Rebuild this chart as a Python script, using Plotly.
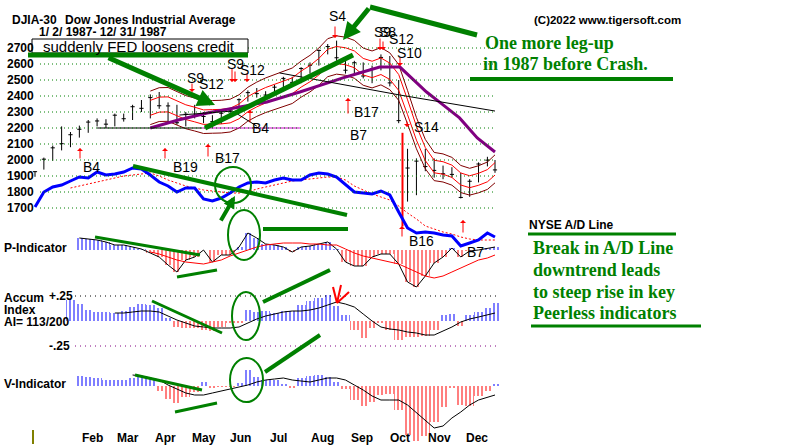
import plotly.graph_objects as go
import pandas as pd

# weekly points (Fridays of 1987, last = Dec 31)
weeks = pd.date_range('1987-01-02', '1987-12-25', freq='7D').strftime('%Y-%m-%d').tolist() + ['1987-12-31']

# DJIA weekly high / low / close
high = [1930, 2015, 2090, 2210, 2175, 2215, 2250, 2260, 2255, 2290, 2290, 2345, 2375, 2410, 2425, 2360, 2345, 2300,
        2345, 2300, 2280, 2305, 2325, 2385, 2435, 2450, 2430, 2470, 2520, 2520, 2580, 2610, 2690, 2725, 2746, 2640,
        2620, 2610, 2590, 2660, 2650, 2500, 2070, 2010, 2070, 2010, 1965, 1955, 1920, 1880, 1985, 2020, 2000]
low = [1895, 1940, 1995, 2060, 2080, 2140, 2170, 2210, 2200, 2210, 2240, 2250, 2300, 2260, 2320, 2230, 2220, 2210,
       2260, 2230, 2200, 2225, 2270, 2300, 2365, 2390, 2390, 2400, 2440, 2460, 2480, 2540, 2590, 2660, 2620, 2540,
       2540, 2510, 2480, 2560, 2460, 2230, 1740, 1780, 1930, 1890, 1880, 1890, 1760, 1770, 1860, 1960, 1920]
close = [1927, 2005, 2076, 2102, 2158, 2192, 2237, 2244, 2224, 2280, 2258, 2333, 2323, 2390, 2339, 2338, 2233, 2286,
         2280, 2272, 2240, 2292, 2306, 2377, 2421, 2415, 2406, 2455, 2510, 2485, 2572, 2592, 2685, 2709, 2639, 2561,
         2608, 2525, 2570, 2641, 2482, 2246, 1950, 1993, 1959, 1935, 1914, 1910, 1766, 1867, 1975, 1999, 1938]

# crash day bar (drawn red)
crash_day = ['1987-10-19']
crash_hi = [2170]
crash_lo = [1585]

# 50-day MA (purple)
ma50_dates = ['1987-04-03', '1987-04-25', '1987-05-18', '1987-06-07', '1987-07-04', '1987-07-30', '1987-08-20',
              '1987-09-02', '1987-09-15', '1987-10-01', '1987-10-17', '1987-11-07', '1987-11-17', '1987-12-03',
              '1987-12-17', '1987-12-31']
ma50 = [2200, 2250, 2294, 2325, 2363, 2425, 2481, 2513, 2544, 2581, 2581, 2425, 2363, 2263, 2138, 2050]

# drawn black trend lines
trend_dates = ['1987-07-14', '1987-10-17', '1987-12-31']
trend = [2544, 2406, 2306]
trend2_dates = ['1987-04-26', '1987-06-07', '1987-06-26']
trend2 = [2281, 2306, 2212]
support_dates = ['1987-02-20', '1987-05-14']
support2_dates = ['1987-05-14', '1987-07-30']
support = [2200, 2200]

# NYSE A/D line and its MA
ad = [300, 1800, 2300, 2500, 2900, 3300, 3200, 3800, 3500, 3600, 3800, 4200, 4100, 3500, 2800, 2400, 1800, 2200,
      2200, 1100, 900, 1200, 1700, 2300, 2700, 2800, 2700, 3000, 3200, 3000, 3000, 3500, 3700, 3600, 3300, 2500,
      1800, 1700, 1600, 1900, 1500, -200, -1800, -2300, -2200, -2300, -2500, -2600, -3600, -3300, -3000, -2300, -2700]
ad_ma = [None] * 4 + [2200, 2400, 2600, 2800, 3000, 3200, 3400, 3500, 3600, 3700, 3400, 3000, 2700, 2400, 2200,
                      2000, 1900, 1800, 1700, 1700, 1800, 2100, 2300, 2500, 2700, 2900, 3000, 3100, 3200, 3300,
                      3300, 3000, 2400, 2000, 1600, 1300, 1000, 400, -300, -900, -1600, -1900, -2200, -2400,
                      -2700, -2900, -3000, -3000, -3000]

# P-Indicator and its MA
p_ind = [None] * 5 + [120, 110, 100, 80, 50, 50, 30, 10, -30, -70, -150, -220, -100, -70, 0, -120, -50, -50, 30,
                      170, 120, 60, 50, 30, -20, 30, 40, 60, 80, 10, -120, -160, -160, -70, -40, -40, -140, -320,
                      -370, -260, -130, -70, 20, -70, -10, 0, 20, 30]
p_ma = [None] * 13 + [-20, -40, -70, -100, -120, -130, -140, -120, -100, -60, -30, 0, 30, 50, 60, 70, 70, 70, 60,
                      60, 50, 50, 10, -30, -60, -80, -100, -120, -140, -180, -220, -260, -280, -260, -220, -180,
                      -140, -100, -80, -50]

# Accumulation Index and its MA
ai = [None] * 4 + [0.21, 0.17, 0.11, 0.09, 0.09, 0.08, 0.10, 0.14, 0.17, 0.16, 0.13, 0.03, -0.06, -0.07, -0.07,
                   -0.09, -0.10, -0.06, -0.02, -0.02, 0.11, 0.09, 0.10, 0.08, 0.10, 0.10, 0.16, 0.20, 0.23, 0.26,
                   0.15, 0.06, -0.09, -0.17, -0.07, -0.02, -0.09, -0.19, -0.16, -0.16, -0.15, -0.09, 0.06, 0.07,
                   -0.05, 0.06, 0.09, 0.13, 0.18]
ai_ma = [None] * 9 + [0.08, 0.08, 0.09, 0.10, 0.10, 0.09, 0.05, 0.01, -0.02, -0.05, -0.06, -0.07, -0.07, -0.07,
                      -0.06, -0.02, 0.02, 0.05, 0.07, 0.09, 0.10, 0.10, 0.11, 0.13, 0.16, 0.19, 0.17, 0.14, 0.07,
                      0.00, -0.06, -0.08, -0.09, -0.11, -0.12, -0.14, -0.14, -0.10, -0.06, -0.01, 0.02, 0.04,
                      0.06, 0.08]

# V-Indicator and its MA
v_ind = [None] * 5 + [100, 90, 80, 60, 60, 60, 80, 90, 70, -50, -130, -170, -110, -60, 40, -20, -10, -10, 30, 160,
                      90, 60, 60, 20, -20, 80, 100, 110, 90, 40, -30, -140, -200, -160, -90, -80, -240, -490, -550,
                      -500, -360, -210, -20, -190, -200, -100, -50, 20]
v_ma = [None] * 11 + [110, 100, 80, 60, 10, -30, -70, -90, -90, -70, -50, -30, -10, 10, 40, 60, 70, 80, 60, 50,
                      40, 60, 80, 80, 60, 10, -40, -100, -140, -140, -140, -190, -270, -340, -420, -400, -320,
                      -260, -190, -140, -110, -90]

price_ticks = [2700, 2600, 2500, 2400, 2300, 2200, 2100, 2000, 1900, 1800, 1700]
month_labels = ['Feb', 'Mar', 'Apr', 'May', 'Jun', 'Jul', 'Aug', 'Sep', 'Oct', 'Nov', 'Dec']
month_pos = ['1987-02-16', '1987-03-16', '1987-04-15', '1987-05-15', '1987-06-13', '1987-07-13', '1987-08-17',
             '1987-09-17', '1987-10-17', '1987-11-17', '1987-12-17']

GREEN = '#008000'
RED = '#ff0000'
DARKRED = '#800000'
BLUE = '#0000ff'
PURPLE = '#800080'
W, H = 800, 447


def px(x):
    return x / W


def py(y):
    return 1 - y / H


# 21-day style band from the weekly closes, shown from April
ma = pd.Series(close).rolling(4).mean()
ma[:13] = None

fig = go.Figure()

# price bars
bx, by = [], []
for d, h, l in zip(weeks, high, low):
    bx += [d, d, None]
    by += [h, l, None]
fig.add_trace(go.Scatter(x=bx, y=by, mode='lines', line=dict(color='black', width=1), yaxis='y'))
fig.add_trace(go.Scatter(x=weeks, y=close, mode='markers', yaxis='y',
                         marker=dict(symbol='line-ew', size=3, line=dict(color='black', width=1))))
cx, cy = [], []
for d, h, l in zip(crash_day, crash_hi, crash_lo):
    cx += [d, d, None]
    cy += [h, l, None]
fig.add_trace(go.Scatter(x=cx, y=cy, mode='lines', line=dict(color=RED, width=2), yaxis='y'))

for k, c in [(1.02, RED), (0.98, RED), (1.045, DARKRED), (0.955, DARKRED)]:
    fig.add_trace(go.Scatter(x=weeks, y=ma * k, mode='lines', line=dict(color=c, width=1), yaxis='y'))

fig.add_trace(go.Scatter(x=ma50_dates, y=ma50, mode='lines', line=dict(color=PURPLE, width=3), yaxis='y'))
fig.add_trace(go.Scatter(x=trend_dates, y=trend, mode='lines', line=dict(color='black', width=1), yaxis='y'))
fig.add_trace(go.Scatter(x=trend2_dates, y=trend2, mode='lines', line=dict(color='black', width=1), yaxis='y'))
fig.add_trace(go.Scatter(x=support_dates, y=support, mode='lines', line=dict(color='black', width=1), yaxis='y'))
fig.add_trace(go.Scatter(x=support2_dates, y=support, mode='lines', line=dict(color='#cc00cc', width=1), yaxis='y'))

# A/D line
fig.add_trace(go.Scatter(x=weeks, y=ad_ma, mode='lines', line=dict(color=RED, width=1, dash='2px,2px'), yaxis='y2'))
fig.add_trace(go.Scatter(x=weeks, y=ad, mode='lines', line=dict(color=BLUE, width=3), yaxis='y2'))

WK = 7 * 86400000


def bars(vals, axis):
    pos = [v if v is not None and v > 0 else None for v in vals]
    neg = [v if v is not None and v < 0 else None for v in vals]
    for arr, col in [(pos, BLUE), (neg, RED)]:
        fig.add_trace(go.Bar(x=weeks, y=arr, width=WK, yaxis=axis,
                             marker=dict(color='white', line_width=0,
                                         pattern=dict(shape='|', fgcolor=col, bgcolor='white',
                                                      size=4, solidity=0.5))))


bars(p_ind, 'y3')
fig.add_trace(go.Scatter(x=weeks, y=p_ind, mode='lines', line=dict(color='black', width=1), yaxis='y3'))
fig.add_trace(go.Scatter(x=weeks, y=p_ma, mode='lines', line=dict(color=RED, width=1), yaxis='y3'))

bars(ai, 'y4')
fig.add_trace(go.Scatter(x=weeks, y=ai_ma, mode='lines', line=dict(color='black', width=1), yaxis='y4'))

bars(v_ind, 'y5')
fig.add_trace(go.Scatter(x=weeks, y=v_ma, mode='lines', line=dict(color='black', width=1), yaxis='y5'))

# x range so that Jan 2 sits at pixel 35 and Dec 31 at pixel 495
ppd = 460 / 363
t0 = pd.Timestamp('1987-01-02') - pd.Timedelta(days=35 / ppd)
t1 = t0 + pd.Timedelta(days=W / ppd)

shapes = []
ann = []

# grid lines
for v in price_ticks:
    shapes.append(dict(type='line', xref='paper', yref='y', x0=px(40), x1=px(496), y0=v, y1=v,
                       line=dict(color=GREEN, width=1, dash='1px,3px')))
    ann.append(dict(text='<b>%d</b>' % v, x=px(5), y=v, xref='paper', yref='y', showarrow=False,
                    xanchor='left', yanchor='middle', font=dict(family='Arial', size=12, color='black')))
shapes.append(dict(type='line', xref='paper', yref='paper', x0=px(75), x1=px(496), y0=py(296), y1=py(296),
                   line=dict(color='black', width=1, dash='1px,4px')))
shapes.append(dict(type='line', xref='paper', yref='paper', x0=px(75), x1=px(496), y0=py(346), y1=py(346),
                   line=dict(color=PURPLE, width=1, dash='1px,4px')))
shapes.append(dict(type='line', xref='paper', yref='paper', x0=px(33), x1=px(33), y0=py(430), y1=py(444),
                   line=dict(color='#808000', width=2)))

# box
shapes.append(dict(type='rect', xref='paper', yref='paper', x0=px(32), x1=px(248), y0=py(53), y1=py(39),
                   line=dict(color='black', width=1), fillcolor='white'))


def gline(x0, y0, x1, y1, w=5):
    shapes.append(dict(type='line', xref='paper', yref='paper', x0=px(x0), y0=py(y0), x1=px(x1), y1=py(y1),
                       line=dict(color=GREEN, width=w)))


def gcirc(x0, y0, x1, y1):
    shapes.append(dict(type='circle', xref='paper', yref='paper', x0=px(x0), y0=py(y1), x1=px(x1), y1=py(y0),
                       line=dict(color=GREEN, width=2)))


def arrow(tx, ty, sx, sy, color, w=1, head=1, size=1):
    ann.append(dict(text='', x=px(tx), y=py(ty), xref='paper', yref='paper', showarrow=True,
                    ax=sx - tx, ay=sy - ty, arrowcolor=color, arrowwidth=w, arrowhead=head, arrowsize=size))


def txt(s, x, y, size=12, color='black', bold=True, family='Arial'):
    ann.append(dict(text=('<b>%s</b>' % s) if bold else s, x=px(x), y=py(y), xref='paper', yref='paper',
                    showarrow=False, xanchor='left', yanchor='middle',
                    font=dict(family=family, size=size, color=color)))


gline(28, 55, 248, 55)
gline(205, 128, 353, 55)
gline(370, 7, 477, 35)
gline(470, 79, 673, 79, 4)
gline(528, 234, 676, 234, 3)
gline(531, 326, 701, 326, 3)
gline(133, 166, 347, 215, 4)
gline(263, 229, 348, 229, 4)
gline(95, 237, 200, 255, 3)
gline(177, 277, 217, 270, 3)
gline(152, 301, 222, 333, 3)
gline(263, 302, 330, 270, 4)
gline(135, 375, 202, 390, 3)
gline(175, 412, 217, 403, 3)
gline(265, 372, 320, 335, 4)
gcirc(215, 167, 251, 203)
gcirc(228, 210, 260, 260)
gcirc(232, 292, 260, 340)
gcirc(230, 358, 263, 402)
arrow(215, 105, 107, 57, GREEN, 5, 2, 0.7)
arrow(343, 40, 370, 7, GREEN, 5, 2, 0.7)
arrow(235, 196, 220, 222, GREEN, 4, 2, 0.6)

# red marks on the Accum Index in August
for x0, y0 in [(333, 287), (341, 285), (349, 292)]:
    shapes.append(dict(type='line', xref='paper', yref='paper', x0=px(x0), y0=py(y0), x1=px(337), y1=py(303),
                       line=dict(color=RED, width=2)))

# signal arrows
for tx, ty, sx, sy in [(80, 148, 80, 160), (165, 148, 165, 160), (208, 144, 208, 158), (250, 110, 250, 124),
                       (348, 98, 348, 115), (402, 226, 402, 238), (463, 220, 463, 234),
                       (192, 92, 192, 82), (232, 82, 232, 67), (235, 82, 235, 70), (247, 82, 247, 72),
                       (335, 38, 335, 25), (380, 50, 380, 37), (383, 50, 383, 40), (400, 66, 400, 56),
                       (407, 127, 407, 120)]:
    arrow(tx, ty, sx, sy, RED)

for s, x, y in [('B4', 81, 167), ('B19', 171, 167), ('B17', 213, 158), ('S9', 185, 78), ('S12', 197, 84),
                ('S9', 225, 64), ('S12', 238, 70), ('B4', 250, 128), ('S4', 327, 16), ('S9', 372, 32),
                ('S8', 377, 32), ('S12', 387, 39), ('S10', 395, 53), ('B17', 352, 112), ('B7', 348, 135),
                ('S14', 412, 127), ('B16', 407, 241), ('B7', 465, 252)]:
    txt(s, x, y, 14, bold=False)

txt('DJIA-30', 10, 20)
txt('Dow Jones Industrial Average', 63, 20)
txt('1/ 2/ 1987- 12/ 31/ 1987', 37, 32)
txt('suddenly FED loosens credit', 41, 46, 15, bold=False)
txt('(C)2022 www.tigersoft.com', 532, 20, 11.5)
txt('One more leg-up', 483, 43, 18, GREEN, family='Liberation Serif')
txt('in 1987 before Crash.', 481, 64, 18, GREEN, family='Liberation Serif')
txt('NYSE A/D Line', 527, 225, 12)
for s, y in [('Break in A/D Line', 248), ('downtrend leads', 270), ('to steep rise in key', 292),
             ('Peerless indicators', 313)]:
    txt(s, 531, y, 18, GREEN, family='Liberation Serif')
txt('P-Indicator', 2, 248)
txt('Accum', 2, 298)
txt('+.25', 47, 296)
txt('Index', 2, 310)
txt('AI= 113/200', 2, 322)
txt('-.25', 47, 346)
txt('V-Indicator', 2, 384)

for m, d in zip(month_labels, month_pos):
    ann.append(dict(text='<b>%s</b>' % m, x=d, y=py(438), xref='x', yref='paper', showarrow=False,
                    xanchor='center', yanchor='middle', font=dict(family='Arial', size=12, color='black')))


def dom(top, bottom):
    return [max(0, py(bottom)), min(1, py(top))]


hid = dict(visible=False, showgrid=False, zeroline=False, fixedrange=True)
fig.update_layout(
    width=W, height=H,
    margin=dict(l=0, r=0, t=0, b=0),
    paper_bgcolor='white', plot_bgcolor='rgba(0,0,0,0)',
    showlegend=False, barmode='overlay', bargap=0,
    xaxis=dict(range=[t0, t1], type='date', **hid),
    yaxis=dict(domain=dom(20, 256), range=[1400, 2875], **hid),
    yaxis2=dict(overlaying='y', range=[-4600, 19000], **hid),
    yaxis3=dict(domain=dom(215, 295), range=[-450, 350], anchor='x', **hid),
    yaxis4=dict(domain=dom(286, 350), range=[-0.29, 0.35], anchor='x', **hid),
    yaxis5=dict(domain=dom(360, 446), range=[-600, 260], anchor='x', **hid),
    shapes=shapes,
    annotations=ann,
)

# page body has a default 8px margin; drop it so the figure starts at the corner
fig.write_html("out.html", config={'displayModeBar': False},
               post_script="document.body.style.margin='0';document.body.style.overflow='hidden';")
